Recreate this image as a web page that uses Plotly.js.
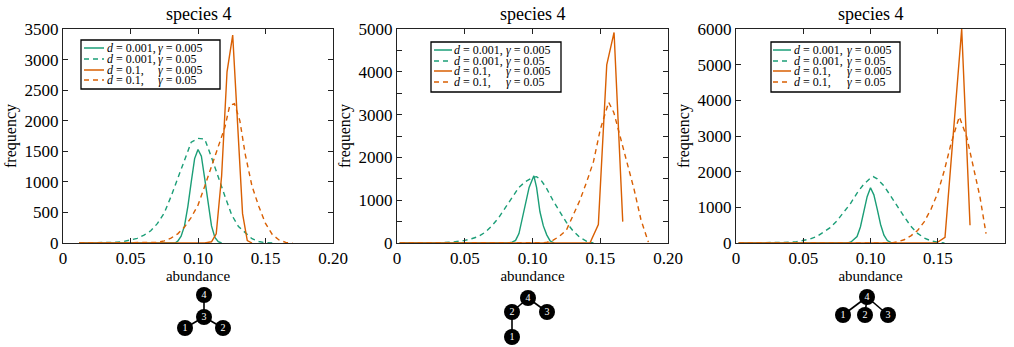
<!DOCTYPE html>
<html><head><meta charset="utf-8">
<script src="https://cdn.plot.ly/plotly-3.0.1.min.js"></script>
<style>html,body{margin:0;padding:0;background:#fff}#chart{width:1014px;height:347px}</style>
</head><body><div id="chart"></div>
<script>
// ---------------- data ----------------
const panelTitles = ['species 4', 'species 4', 'species 4'];
const xTickVals = [0, 0.05, 0.1, 0.15, 0.2];
const xTickText = ['0', '0.05', '0.10', '0.15', '0.20'];
const yMax = [3500, 5000, 6000];
const yDtick = [500, 1000, 1000];

const legendD = ['0.001', '0.001', '0.1', '0.1'];
const legendGamma = ['0.005', '0.05', '0.005', '0.05'];

// panel 1
const p1_gs_x = [0.012, 0.083, 0.085, 0.0875, 0.09, 0.0925, 0.095, 0.0975, 0.1, 0.1025, 0.105, 0.1075, 0.11, 0.1125, 0.115, 0.1175];
const p1_gs_y = [0, 0, 30, 110, 280, 600, 1000, 1380, 1530, 1420, 1050, 620, 280, 90, 20, 0];
const p1_gd_x = [0.012, 0.025, 0.03, 0.035, 0.04, 0.045, 0.05, 0.055, 0.06, 0.065, 0.07, 0.075, 0.08, 0.085, 0.09, 0.095, 0.1, 0.105, 0.11, 0.115, 0.12, 0.125, 0.13, 0.135, 0.14, 0.145, 0.15, 0.155];
const p1_gd_y = [0, 0, 2, 5, 12, 25, 45, 75, 130, 200, 320, 490, 760, 1050, 1340, 1650, 1712, 1700, 1400, 1070, 760, 458, 270, 170, 70, 25, 5, 0];
const p1_os_x = [0.012, 0.105, 0.11, 0.1135, 0.1175, 0.1215, 0.1257, 0.1295, 0.133, 0.1365, 0.14];
const p1_os_y = [0, 0, 20, 150, 1100, 2800, 3400, 1900, 480, 40, 0];
const p1_od_x = [0.012, 0.065, 0.07, 0.075, 0.08, 0.085, 0.09, 0.095, 0.1, 0.105, 0.11, 0.115, 0.12, 0.1235, 0.127, 0.131, 0.135, 0.14, 0.145, 0.15, 0.155, 0.16, 0.165, 0.17];
const p1_od_y = [0, 0, 10, 35, 80, 150, 260, 420, 620, 930, 1250, 1600, 1900, 2250, 2280, 2000, 1450, 930, 600, 320, 140, 50, 10, 0];

// panel 2
const p2_gs_x = [0.002, 0.082, 0.085, 0.0875, 0.09, 0.0925, 0.095, 0.0975, 0.101, 0.103, 0.1055, 0.108, 0.1105, 0.113, 0.116];
const p2_gs_y = [0, 0, 20, 60, 220, 560, 950, 1300, 1570, 1300, 730, 400, 190, 50, 0];
const p2_gd_x = [0.002, 0.025, 0.03, 0.035, 0.04, 0.045, 0.05, 0.055, 0.06, 0.065, 0.07, 0.075, 0.08, 0.085, 0.09, 0.095, 0.1, 0.103, 0.106, 0.11, 0.115, 0.12, 0.125, 0.13, 0.135, 0.14, 0.145];
const p2_gd_y = [0, 0, 5, 10, 20, 35, 60, 100, 150, 250, 400, 590, 830, 1080, 1300, 1440, 1530, 1550, 1480, 1300, 1000, 740, 480, 280, 130, 40, 0];
const p2_os_x = [0.002, 0.1424, 0.1486, 0.1548, 0.1602, 0.1666];
const p2_os_y = [0, 0, 430, 4160, 4920, 500];
const p2_od_x = [0.002, 0.105, 0.11, 0.115, 0.12, 0.125, 0.13, 0.135, 0.14, 0.145, 0.15, 0.1562, 0.16, 0.165, 0.17, 0.175, 0.18, 0.1855];
const p2_od_y = [0, 0, 10, 60, 160, 300, 640, 1000, 1430, 1900, 2650, 3290, 3050, 2450, 1850, 1250, 550, 20];

// panel 3
const p3_gs_x = [0.002, 0.083, 0.0855, 0.0875, 0.09, 0.0925, 0.095, 0.0975, 0.1, 0.1025, 0.105, 0.1075, 0.11, 0.1125, 0.115, 0.118];
const p3_gs_y = [0, 0, 30, 90, 180, 450, 880, 1300, 1550, 1350, 950, 520, 220, 70, 15, 0];
const p3_gd_x = [0.002, 0.025, 0.03, 0.035, 0.04, 0.045, 0.05, 0.055, 0.06, 0.065, 0.07, 0.075, 0.08, 0.085, 0.09, 0.095, 0.1, 0.102, 0.105, 0.11, 0.115, 0.12, 0.125, 0.13, 0.135, 0.14, 0.145, 0.15, 0.155];
const p3_gd_y = [0, 0, 5, 10, 20, 35, 65, 110, 180, 300, 430, 620, 850, 1100, 1400, 1650, 1820, 1860, 1800, 1600, 1320, 1020, 740, 470, 270, 140, 60, 20, 0];
const p3_os_x = [0.002, 0.149, 0.1554, 0.1678, 0.174];
const p3_os_y = [0, 0, 160, 6000, 500];
const p3_od_x = [0.002, 0.115, 0.12, 0.125, 0.13, 0.135, 0.14, 0.145, 0.15, 0.155, 0.16, 0.166, 0.1715, 0.1765, 0.1814, 0.1859];
const p3_od_y = [0, 0, 30, 90, 200, 350, 600, 950, 1400, 2050, 2800, 3540, 2980, 2140, 1290, 260];

// interaction graphs shown below each panel (nodes 1..4, layout units)
const tree1_x = [-0.95, 0.95, 0, 0];
const tree1_y = [-0.55, -0.55, 0, 1.1];
const tree1_edges = [[4, 3], [3, 1], [3, 2]];
const tree2_x = [-0.8, -0.8, 0.95, 0];
const tree2_y = [-1.95, -0.7, -0.7, 0];
const tree2_edges = [[4, 2], [4, 3], [2, 1]];
const tree3_x = [-1.2, -0.1, 1.05, 0];
const tree3_y = [-0.9, -0.9, -0.9, 0];
const tree3_edges = [[4, 1], [4, 2], [4, 3]];
const nodeLabels = ['1', '2', '3', '4'];

// ---------------- layout helpers ----------------
const W = 1014, H = 347;
const px = v => v / W;
const py = v => 1 - v / H;
const GREEN = '#1b9e77', ORANGE = '#d95f02';
const FONT = '"Liberation Serif", "Times New Roman", serif';

const series = [
  [[p1_gs_x, p1_gs_y], [p1_gd_x, p1_gd_y], [p1_os_x, p1_os_y], [p1_od_x, p1_od_y]],
  [[p2_gs_x, p2_gs_y], [p2_gd_x, p2_gd_y], [p2_os_x, p2_os_y], [p2_od_x, p2_od_y]],
  [[p3_gs_x, p3_gs_y], [p3_gd_x, p3_gd_y], [p3_os_x, p3_os_y], [p3_od_x, p3_od_y]]
];
const styles = [
  {color: GREEN, dash: 'solid'}, {color: GREEN, dash: '5px,4px'},
  {color: ORANGE, dash: 'solid'}, {color: ORANGE, dash: '5px,4px'}
];

const panelX = [[63, 333], [397, 668], [736, 1005]];
const plotTop = 29, plotBottom = 243;
const legendBox = [[81, 40, 220, 89], [431, 42, 561, 92], [771, 42, 900, 92]];
const legendRows = [[48, 59, 70, 80], [50, 61, 71, 82], [50, 61, 71, 82]];
const legendSample = [[84, 104], [434, 452], [773, 791]];
const legendText = [[106, 157], [453, 505], [793, 846]];
const trees = [[tree1_x, tree1_y, tree1_edges], [tree2_x, tree2_y, tree2_edges], [tree3_x, tree3_y, tree3_edges]];
const treeOrigin = [[204, 317], [528, 298], [867, 297]];

const traces = [];
const layout = {
  width: W, height: H,
  margin: {l: 0, r: 0, t: 0, b: 0},
  paper_bgcolor: '#fff', plot_bgcolor: '#fff',
  font: {family: FONT, color: '#000', size: 17},
  showlegend: false, hovermode: false,
  annotations: [], shapes: []
};

for (let p = 0; p < 3; p++) {
  const sx = p === 0 ? '' : String(p + 1);
  series[p].forEach((s, k) => {
    traces.push({
      x: s[0], y: s[1], xaxis: 'x' + sx, yaxis: 'y' + sx, type: 'scatter', mode: 'lines',
      line: {color: styles[k].color, dash: styles[k].dash, width: 1.4},
      hoverinfo: 'skip'
    });
  });
  const axLine = {showline: true, mirror: 'ticks', linecolor: '#222', linewidth: 1,
    ticks: 'inside', ticklen: 5, tickcolor: '#222', tickwidth: 1,
    showgrid: false, zeroline: false, fixedrange: true,
    tickfont: {family: FONT, size: 17, color: '#000'}};
  layout['xaxis' + sx] = Object.assign({}, axLine, {
    domain: [px(panelX[p][0]), px(panelX[p][1])], anchor: 'y' + sx,
    range: [0, 0.2], tickvals: xTickVals, ticktext: xTickText,
    title: {text: 'abundance', font: {family: FONT, size: 15, color: '#000'}, standoff: 1}
  });
  const yax = Object.assign({}, axLine, {
    domain: [py(plotBottom), py(plotTop)], anchor: 'x' + sx,
    range: [0, yMax[p]], dtick: yDtick[p], tick0: 0,
    title: {text: 'frequency', font: {family: FONT, size: 16, color: '#000'}, standoff: 3}
  });
  if (p === 1) yax.minor = {ticks: 'inside', dtick: 500, ticklen: 5, tickcolor: '#222', showgrid: false};
  layout['yaxis' + sx] = yax;

  // panel title
  layout.annotations.push({xref: 'paper', yref: 'paper', x: px((panelX[p][0] + panelX[p][1]) / 2), y: py(14),
    xanchor: 'center', yanchor: 'middle', showarrow: false, text: panelTitles[p],
    font: {family: FONT, size: 18, color: '#000'}});

  // legend box
  const b = legendBox[p];
  layout.shapes.push({type: 'rect', xref: 'paper', yref: 'paper', x0: px(b[0]), x1: px(b[2]), y0: py(b[1]), y1: py(b[3]),
    line: {color: '#000', width: 1.3}, fillcolor: 'rgba(0,0,0,0)'});
  for (let k = 0; k < 4; k++) {
    const ry = legendRows[p][k];
    layout.shapes.push({type: 'line', xref: 'paper', yref: 'paper', x0: px(legendSample[p][0]), x1: px(legendSample[p][1]),
      y0: py(ry), y1: py(ry), line: {color: styles[k].color, width: 1.5, dash: styles[k].dash}});
    layout.annotations.push({xref: 'paper', yref: 'paper', x: px(legendText[p][0]), y: py(ry), xanchor: 'left', yanchor: 'middle',
      showarrow: false, text: '<i>d</i> = ' + legendD[k] + ',', font: {family: FONT, size: 12, color: '#000'}, borderpad: 0});
    layout.annotations.push({xref: 'paper', yref: 'paper', x: px(legendText[p][1]), y: py(ry), xanchor: 'left', yanchor: 'middle',
      showarrow: false, text: '<i>γ</i> = ' + legendGamma[k], font: {family: FONT, size: 12, color: '#000'}, borderpad: 0});
  }

  // interaction graph below the panel
  const ta = String(p + 4);
  const [tx, ty, te] = trees[p];
  const [ox, oy] = treeOrigin[p];
  layout['xaxis' + ta] = {domain: [px(ox - 60), px(ox + 60)], range: [-3, 3], visible: false, anchor: 'y' + ta, fixedrange: true};
  layout['yaxis' + ta] = {domain: [0, py(277)], range: [-(H - oy) / 20, -(H - oy) / 20 + 3.5], visible: false, anchor: 'x' + ta, fixedrange: true};
  te.forEach(e => {
    traces.push({x: [tx[e[0] - 1], tx[e[1] - 1]], y: [ty[e[0] - 1], ty[e[1] - 1]], xaxis: 'x' + ta, yaxis: 'y' + ta,
      type: 'scatter', mode: 'lines', line: {color: '#000', width: 1.6}, hoverinfo: 'skip', cliponaxis: false});
  });
  traces.push({x: tx, y: ty, xaxis: 'x' + ta, yaxis: 'y' + ta, type: 'scatter', mode: 'markers+text',
    text: nodeLabels, textposition: 'middle center', textfont: {family: FONT, size: 10, color: '#fff'},
    marker: {size: 16, color: '#000', line: {width: 0}}, hoverinfo: 'skip', cliponaxis: false});
}

Plotly.newPlot('chart', traces, layout, {staticPlot: true, displayModeBar: false});
</script></body></html>
